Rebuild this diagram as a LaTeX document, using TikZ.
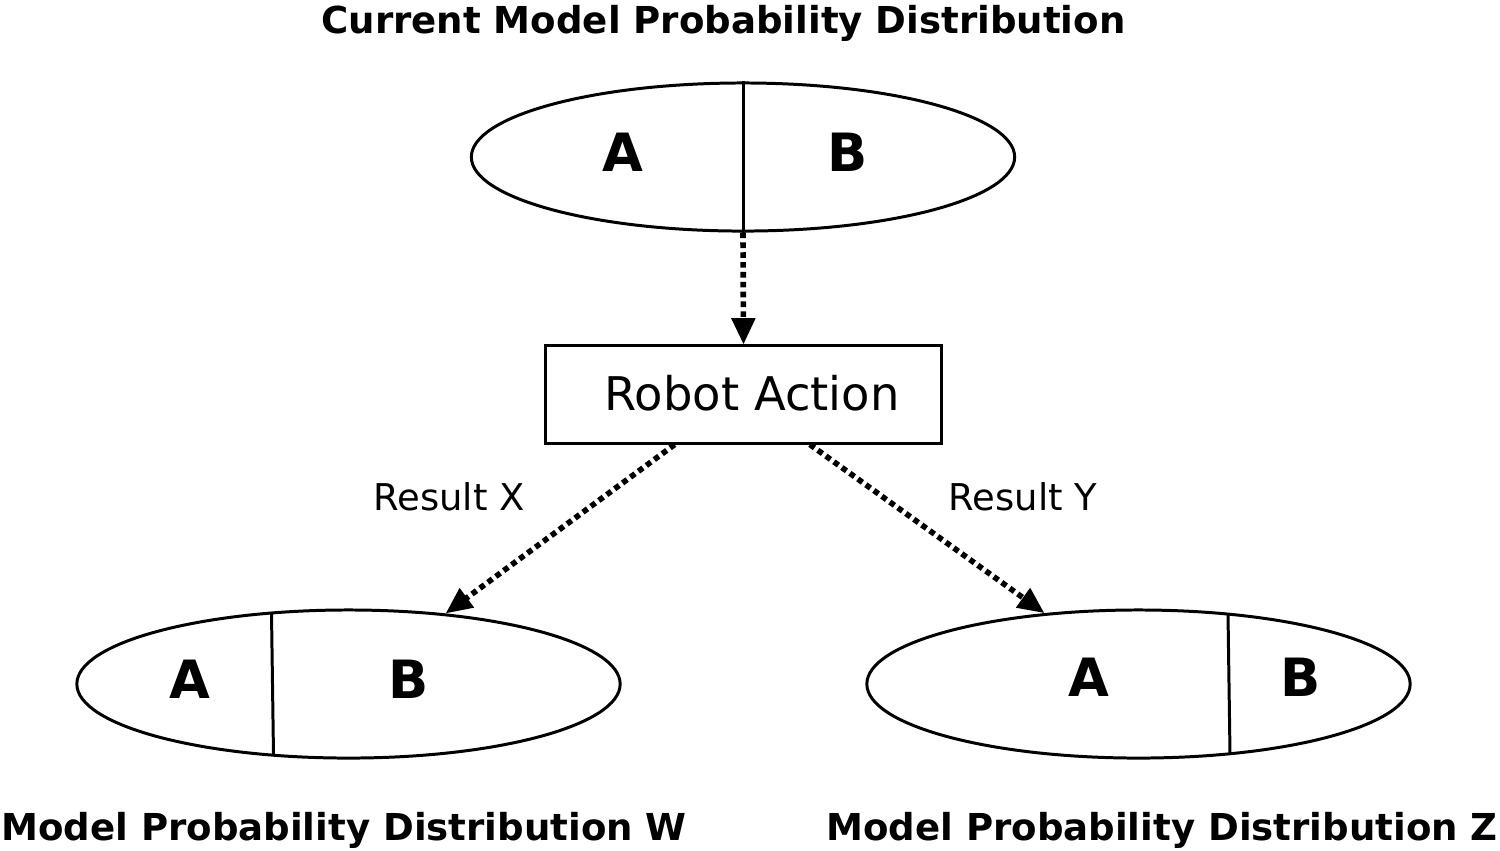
\documentclass[tikz,border=0pt]{standalone}
\usepackage{fontspec}
\setmainfont{DejaVu Sans}
\usetikzlibrary{shapes.geometric,arrows.meta,calc}

\begin{document}
\begin{tikzpicture}[x=0.01cm,y=-0.01cm,line width=0.85pt,
    dist/.style={draw,ellipse,minimum width=5.43cm,minimum height=1.48cm,inner sep=0pt},
    part/.style={font=\fontsize{15}{18}\selectfont\bfseries},
    heading/.style={anchor=base,font=\fontsize{10.55}{12}\selectfont\bfseries},
    res/.style={anchor=base,font=\fontsize{10.5}{12}\selectfont},
    flow/.style={line width=1.6pt,dash pattern=on 1.6pt off 1.2pt,-{Triangle[length=7.5pt,width=6.5pt]}}]
  \useasboundingbox (0,0) rectangle (1500,850);
  \node[heading] (ttop) at (723.5,33.5) {Current Model Probability Distribution};
  \node[dist] (cur) at (743,157) {};
  \draw (cur.north) -- (cur.south);
  \node[part] (cura) at (623,152) {A};
  \node[part] (curb) at (848,152) {B};
  \node[draw,minimum width=3.95cm,minimum height=0.97cm,inner sep=0pt] (act) at (743.5,394.5) {};
  \node[anchor=base,font=\fontsize{13.2}{15}\selectfont] (actt) at (752,410) {Robot Action};
  \node[dist] (lw) at (348.5,684) {};
  \draw ($(lw.center)+(-77,-71)$) -- ($(lw.center)+(-75,71)$);
  \node[part] (lwa) at (190,679) {A};
  \node[part] (lwb) at (409,679) {B};
  \node[heading] (tlw) at (344,840) {Model Probability Distribution W};
  \node[dist] (rz) at (1138.5,684) {};
  \draw ($(rz.center)+(89.5,-70)$) -- ($(rz.center)+(91.5,70)$);
  \node[part] (rza) at (1089,677) {A};
  \node[part] (rzb) at (1301,677) {B};
  \node[heading] (trz) at (1162,840) {Model Probability Distribution Z};
  \draw[flow] (cur.south) -- (act.north);
  \draw[flow] (act.216) -- (lw.36.4);
  \draw[flow] (act.323) -- (rz.143.2);
  \node[res] (rx) at (449,510.5) {Result X};
  \node[res] (ry) at (1023,510.5) {Result Y};
\end{tikzpicture}
\end{document}
